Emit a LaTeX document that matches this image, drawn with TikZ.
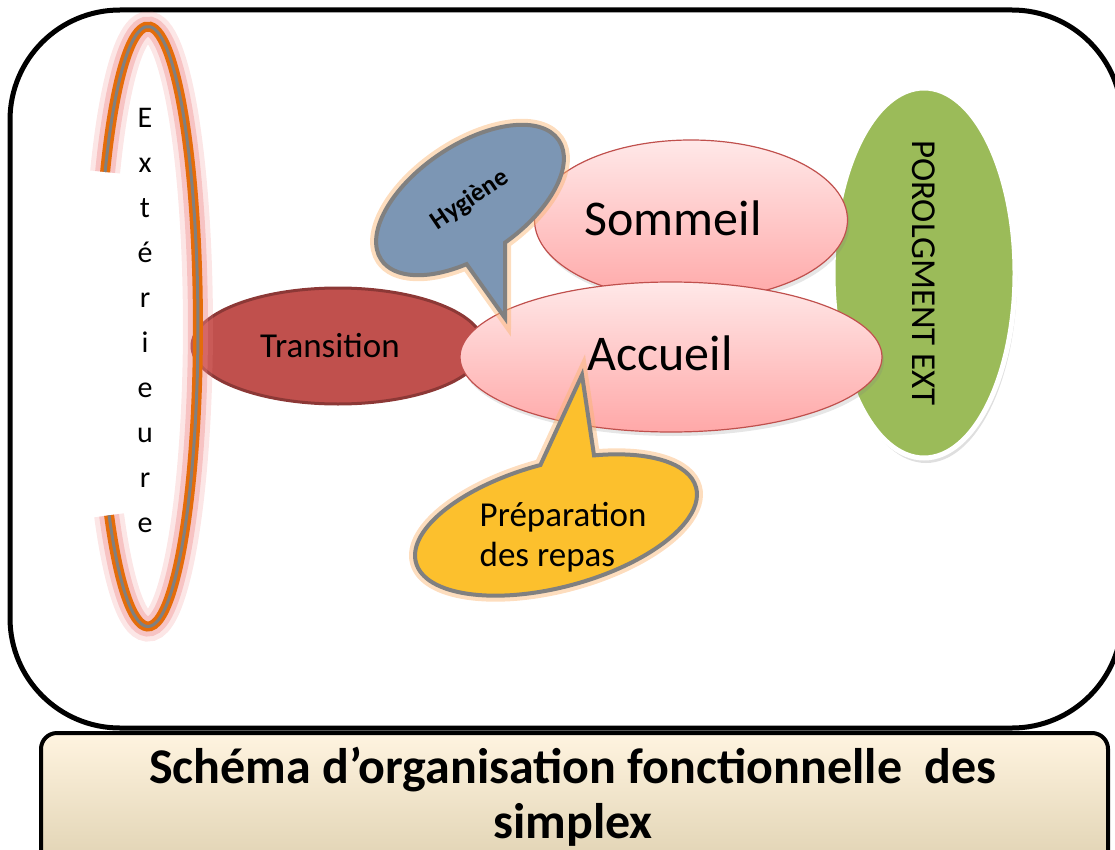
\documentclass[tikz,border=0pt]{standalone}
\usepackage{fontspec}
\setmainfont{Carlito}
\usepackage{xcolor}
\usetikzlibrary{shapes.geometric,shapes.callouts,shadows}
\definecolor{C_rose}{RGB}{192,80,77}
\definecolor{C_rosedark}{RGB}{140,56,54}
\definecolor{C_pinktop}{RGB}{255,232,232}
\definecolor{C_pinkbot}{RGB}{255,168,168}
\definecolor{C_green}{RGB}{155,187,89}
\definecolor{C_steel}{RGB}{124,150,180}
\definecolor{C_gold}{RGB}{252,192,45}
\definecolor{C_gray}{RGB}{128,128,128}
\definecolor{C_orange}{RGB}{228,108,10}
\definecolor{C_halo}{RGB}{250,180,110}
\definecolor{C_glow}{RGB}{238,130,130}
\definecolor{C_bannertop}{RGB}{255,244,224}
\definecolor{C_bannerbot}{RGB}{221,207,174}

\begin{document}
\begin{tikzpicture}[x=1pt,y=-1pt]
  \tikzset{
    zone/.style={ellipse, draw=C_rose, line width=1.2pt, top color=C_pinktop, bottom color=C_pinkbot, inner sep=0pt,
      drop shadow={opacity=0.2, shadow xshift=2pt, shadow yshift=-4pt}},
    passage/.style={ellipse, draw=C_rosedark, line width=3pt, fill=C_rose, inner sep=0pt},
    ext/.style={ellipse, draw=white, line width=5pt, fill=C_green, inner sep=0pt,
      drop shadow={opacity=0.25, shadow xshift=2pt, shadow yshift=-5pt}},
    bulle/.style={ellipse callout, draw=C_gray, line width=4pt, inner sep=0pt,
      preaction={draw=C_halo, line width=12pt, opacity=0.45}},
    boucle/.style={line width=3pt, C_gray,
      preaction={draw=C_glow, line width=30pt, opacity=0.2},
      preaction={draw=C_glow, line width=20pt, opacity=0.35},
      preaction={draw=C_orange, line width=10pt}},
    big/.style={font=\fontsize{50}{60}\selectfont},
    mid/.style={font=\fontsize{35}{40}\selectfont}
  }
  \useasboundingbox (0,0) rectangle (1115,850);
  \clip (0,0) rectangle (1115,850);

  % cadre et bandeau
  \draw[line width=5pt, rounded corners=110pt] (10,10) rectangle (1122,728);
  \draw[line width=4pt, rounded corners=16pt, top color=C_bannertop, bottom color=C_bannerbot] (41,733) rectangle (1108,880);
  \node[font=\bfseries\fontsize{50}{55}\selectfont, align=center] (titre) at (573,797) {Schéma d’organisation fonctionnelle~~des\\simplex};

  \node[ext, minimum width=182pt, minimum height=370pt] (prol) at (924,273) {};
  \node[mid, rotate=-90] (prolt) at (prol.center) {POROLGMENT EXT};

  \node[passage, minimum width=292pt, minimum height=116pt] (trans) at (338,346) {};
  \node[mid] (transt) at (330,346) {Transition};
  \node[zone, minimum width=313pt, minimum height=160pt] (som) at (691,220) {};
  \node[big] (somt) at (673,218) {Sommeil};
  \node[zone, minimum width=422pt, minimum height=150pt] (acc) at (671,357) {};
  \node[big] (acct) at (660,353) {Accueil};

  \node[bulle, fill=C_steel, rotate=34, minimum width=214pt, minimum height=110pt,
    callout absolute pointer={(505,318)}, callout pointer arc=24,
    font=\bfseries\fontsize{26}{28}\selectfont] (hyg) at (470,200) {Hygiène};
  \node[bulle, fill=C_gold, rotate=15, minimum width=290pt, minimum height=124pt,
    callout absolute pointer={(582,375)}, callout pointer arc=22] (prep) at (556,525) {};
  \node[mid, align=left] (prept) at (563,537) {Préparation\\des repas};

  \draw[boucle] (105.1,172) arc[start angle=-149, end angle=141, x radius=50, y radius=300];
  \node[font=\fontsize{30}{45}\selectfont, align=center] (extt) at (145,320) {E\\x\\t\\é\\r\\i\\e\\u\\r\\e};
\end{tikzpicture}
\end{document}
